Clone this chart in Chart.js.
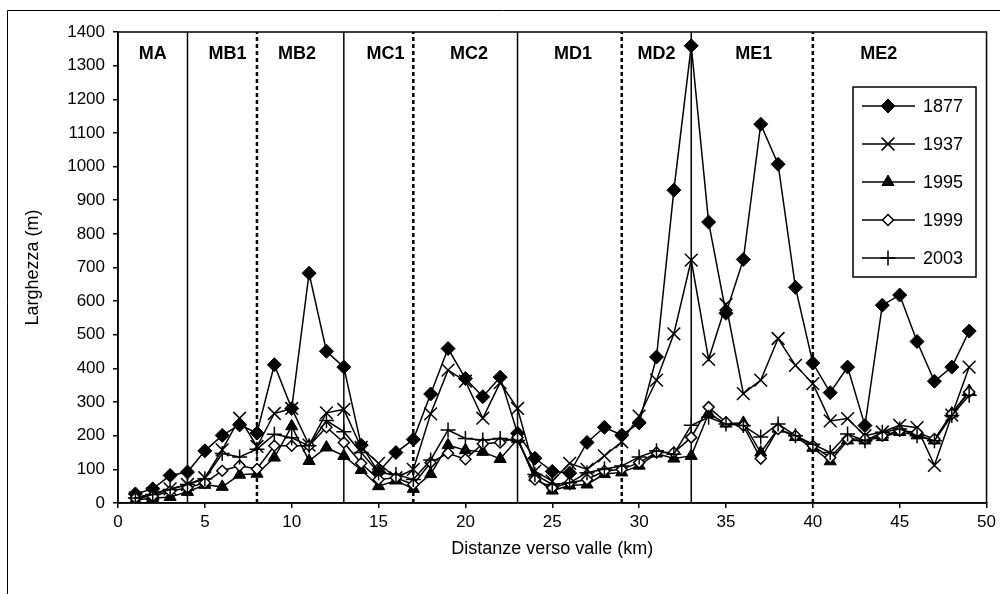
<!DOCTYPE html>
<html>
<head>
<meta charset="utf-8">
<script src="https://cdn.jsdelivr.net/npm/chart.js@4.4.0/dist/chart.umd.min.js"></script>
<style>
html, body { margin: 0; padding: 0; background: #fff; }
#wrap { width: 1000px; height: 594px; }
</style>
</head>
<body>
<div id="wrap"><canvas id="grafico" width="1000" height="594"></canvas></div>
<script>
// distanze (km)
const km = [1, 2, 3, 4, 5, 6, 7, 8, 9, 10, 11, 12, 13, 14, 15, 16, 17, 18, 19, 20,
    21, 22, 23, 24, 25, 26, 27, 28, 29, 30, 31, 32, 33, 34, 35, 36, 37, 38, 39, 40,
    41, 42, 43, 44, 45, 46, 47, 48, 49];

// larghezze (m) per anno
const l1877 = [27, 42, 82, 92, 155, 201, 232, 208, 411, 281, 683, 451, 404, 172, 92, 150, 189, 324, 459, 370,
    316, 374, 207, 133, 94, 89, 180, 225, 202, 238, 434, 930, 1359, 835, 564, 724, 1126, 1007, 641, 416,
    328, 404, 230, 588, 618, 480, 362, 404, 511];
const l1937 = [15, 28, 42, 55, 75, 158, 252, 168, 266, 281, 172, 268, 278, 165, 118, 75, 100, 265, 395, 362,
    252, 358, 281, 95, 65, 118, 100, 140, 182, 258, 365, 503, 722, 427, 590, 325, 365, 489, 409, 355,
    244, 251, 200, 211, 231, 224, 112, 261, 404];
const l1995 = [9, 14, 18, 33, 54, 48, 84, 87, 135, 228, 125, 165, 140, 98, 50, 67, 42, 86, 172, 157,
    152, 131, 190, 76, 37, 52, 55, 86, 91, 111, 147, 132, 140, 266, 236, 238, 150, 221, 196, 164,
    124, 186, 186, 196, 211, 201, 186, 266, 333];
const l1999 = [15, 20, 35, 45, 60, 96, 111, 101, 170, 170, 170, 225, 180, 118, 70, 75, 55, 120, 148, 130,
    176, 180, 195, 70, 45, 60, 70, 95, 100, 120, 150, 150, 195, 285, 240, 230, 132, 220, 200, 170,
    135, 190, 190, 200, 215, 210, 190, 265, 330];
const l2003 = [15, 25, 40, 55, 72, 147, 137, 160, 204, 194, 170, 245, 212, 150, 90, 85, 70, 128, 217, 192,
    187, 192, 186, 85, 55, 60, 90, 101, 110, 137, 155, 145, 231, 255, 235, 230, 196, 235, 200, 175,
    150, 205, 185, 210, 220, 200, 185, 260, 320];

// tratti del fiume
const tratti = ['MA', 'MB1', 'MB2', 'MC1', 'MC2', 'MD1', 'MD2', 'ME1', 'ME2'];
const posTratti = [2, 6.3, 10.3, 15.4, 20.2, 26.2, 31, 36.6, 43.8];
const limitiPieni = [4, 13, 23, 33];
const limitiTratteggiati = [8, 17, 29, 40];

const anni = ['1877', '1937', '1995', '1999', '2003'];
const serie = [l1877, l1937, l1995, l1999, l2003];

const FONT = '"Liberation Sans", Arial, sans-serif';

const stili = [
    { pointStyle: 'rectRot', radius: 7, bg: '#000', bw: 1 },
    { pointStyle: 'crossRot', radius: 9, bg: '#000', bw: 1.5 },
    { pointStyle: 'triangle', radius: 7, bg: '#000', bw: 1 },
    { pointStyle: 'rectRot', radius: 5.5, bg: '#fff', bw: 1.5 },
    { pointStyle: 'cross', radius: 7.5, bg: '#000', bw: 1.5 }
];

const datasets = [];

limitiPieni.forEach(v => {
    datasets.push({
        data: [{ x: v, y: 0 }, { x: v, y: 1400 }],
        borderColor: '#000', borderWidth: 1.5, pointRadius: 0, showLine: true, order: 20
    });
});
limitiTratteggiati.forEach(v => {
    datasets.push({
        data: [{ x: v, y: 0 }, { x: v, y: 1400 }],
        borderColor: '#000', borderWidth: 2.5, borderDash: [4, 3], pointRadius: 0, showLine: true, order: 20
    });
});

serie.forEach((valori, i) => {
    const s = stili[i];
    datasets.push({
        label: anni[i],
        data: km.map((x, j) => ({ x: x, y: valori[j] })),
        showLine: true,
        borderColor: '#000',
        borderWidth: 1.5,
        pointStyle: s.pointStyle,
        pointRadius: s.radius,
        pointBackgroundColor: s.bg,
        pointBorderColor: '#000',
        pointBorderWidth: s.bw,
        order: 10 - i
    });
});

const cornice = {
    id: 'cornice',
    beforeDraw(chart) {
        const ctx = chart.ctx;
        ctx.save();
        ctx.fillStyle = '#fff';
        ctx.fillRect(0, 0, chart.width, chart.height);
        ctx.strokeStyle = '#000';
        ctx.lineWidth = 1;
        ctx.beginPath();
        ctx.moveTo(7.5, chart.height);
        ctx.lineTo(7.5, 10.5);
        ctx.lineTo(chart.width, 10.5);
        ctx.stroke();
        ctx.restore();
    },
    afterDraw(chart) {
        const { ctx, chartArea: a, scales } = chart;
        ctx.save();
        ctx.strokeStyle = '#000';
        ctx.lineWidth = 1.5;
        ctx.strokeRect(a.left, a.top, a.right - a.left, a.bottom - a.top);

        // nomi dei tratti
        ctx.fillStyle = '#000';
        ctx.font = 'bold 18px ' + FONT;
        ctx.textAlign = 'center';
        ctx.textBaseline = 'middle';
        tratti.forEach((t, i) => {
            ctx.fillText(t, scales.x.getPixelForValue(posTratti[i]), a.top + 22);
        });

        // legenda
        const lx = 853, ly = 87, lw = 123, lh = 190;
        ctx.fillStyle = '#fff';
        ctx.fillRect(lx, ly, lw, lh);
        ctx.lineWidth = 1.5;
        ctx.strokeRect(lx, ly, lw, lh);
        ctx.font = '18px ' + FONT;
        ctx.textAlign = 'left';
        anni.forEach((anno, i) => {
            const y = ly + 19 + i * 38;
            ctx.strokeStyle = '#000';
            ctx.lineWidth = 1.5;
            ctx.beginPath();
            ctx.moveTo(862, y);
            ctx.lineTo(915, y);
            ctx.stroke();
            const s = stili[i];
            ctx.fillStyle = s.bg;
            ctx.lineWidth = s.bw;
            Chart.helpers.drawPoint(ctx, { pointStyle: s.pointStyle, radius: s.radius, borderWidth: s.bw, rotation: 0 }, 888, y);
            ctx.fillStyle = '#000';
            ctx.fillText(anno, 923, y + 1);
        });
        ctx.restore();
    }
};

new Chart(document.getElementById('grafico'), {
    type: 'scatter',
    data: { datasets: datasets },
    options: {
        responsive: false,
        devicePixelRatio: 1,
        animation: false,
        layout: { padding: { top: 32, right: 12, left: 0, bottom: 0 } },
        plugins: { legend: { display: false }, tooltip: { enabled: false } },
        scales: {
            x: {
                type: 'linear', min: 0, max: 50,
                afterFit: s => { s.height = 91; },
                ticks: { stepSize: 5, color: '#000', font: { family: FONT, size: 17 }, padding: 4, maxRotation: 0,
                    callback: v => String(v) },
                grid: { drawOnChartArea: false, drawTicks: true, tickLength: 5, color: '#000', lineWidth: 1.5 },
                border: { display: true, color: '#000', width: 1.5 },
                title: { display: true, text: 'Distanze verso valle (km)', color: '#000',
                    font: { family: FONT, size: 18 }, padding: { top: 0, bottom: 34 } }
            },
            y: {
                min: 0, max: 1400,
                afterFit: s => { s.width = 118; },
                ticks: { stepSize: 100, color: '#000', font: { family: FONT, size: 17 }, padding: 8,
                    callback: v => String(v) },
                grid: { drawOnChartArea: false, drawTicks: true, tickLength: 5, color: '#000', lineWidth: 1.5 },
                border: { display: true, color: '#000', width: 1.5 },
                title: { display: true, text: 'Larghezza (m)', color: '#000',
                    font: { family: FONT, size: 18 }, padding: { top: 22, bottom: 0 } }
            }
        }
    },
    plugins: [cornice]
});
</script>
</body>
</html>
